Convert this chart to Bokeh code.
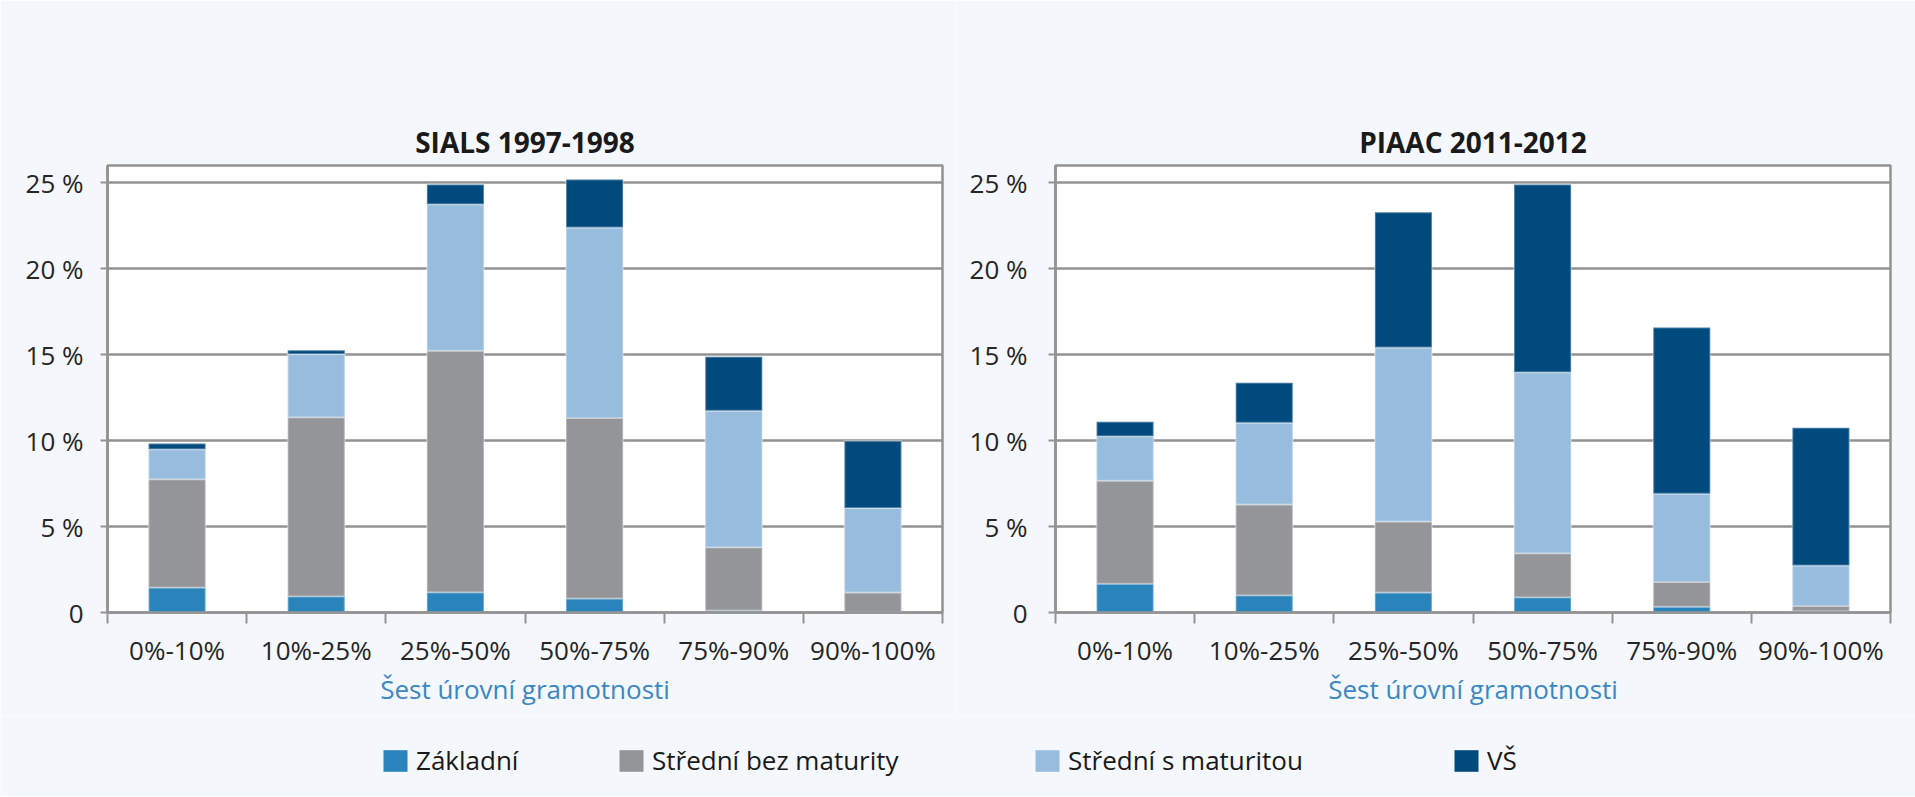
from bokeh.plotting import figure
from bokeh.models import Range1d, FixedTicker, Legend, LegendItem, ColumnDataSource
from bokeh.layouts import row, column
from bokeh.embed import file_html
from bokeh.resources import INLINE

# ---- data ----
categories = ["0%-10%", "10%-25%", "25%-50%", "50%-75%", "75%-90%", "90%-100%"]
series_names = ["Základní", "Střední bez maturity", "Střední s maturitou", "VŠ"]

sials_zakladni = [1.45, 0.94, 1.18, 0.82, 0.12, 0.03]
sials_bez_maturity = [6.30, 10.42, 14.04, 10.50, 3.67, 1.13]
sials_s_maturitou = [1.75, 3.68, 8.53, 11.08, 7.95, 4.92]
sials_vs = [0.33, 0.22, 1.15, 2.79, 3.14, 3.90]

piaac_zakladni = [1.67, 1.00, 1.16, 0.89, 0.33, 0.08]
piaac_bez_maturity = [5.99, 5.28, 4.14, 2.56, 1.45, 0.30]
piaac_s_maturitou = [2.59, 4.75, 10.12, 10.52, 5.13, 2.36]
piaac_vs = [0.85, 2.34, 7.86, 10.92, 9.67, 8.00]

y_ticks = [0, 5, 10, 15, 20, 25]
y_tick_labels = ["0", "5 %", "10 %", "15 %", "20 %", "25 %"]
x_axis_title = "Šest úrovní gramotnosti"

# ---- style ----
COLORS = ["#2A84BC", "#939598", "#97BCDD", "#004A7E"]
BG = "#F4F7FB"
GRID = "#939393"
TEXT = "#262626"
FONT = "Open Sans"
FRAME_W = 835
FRAME_H = 447


def make_chart(title, vals, width, left_border, ystandoff):
    keys = ["zakl", "bez", "smat", "vs"]
    n = len(categories)
    xs = [i + 0.5 for i in range(n)]
    data = dict(x=xs)
    for k, v in zip(keys, vals):
        data[k] = v
    src = ColumnDataSource(data)

    p = figure(frame_width=FRAME_W, frame_height=FRAME_H,
               x_range=Range1d(0, n), y_range=Range1d(0, 26),
               output_backend="svg", toolbar_location=None, title=title,
               min_border_left=left_border, min_border_right=width - left_border - FRAME_W,
               min_border_top=165, min_border_bottom=103)
    p.border_fill_color = BG
    p.background_fill_color = "white"
    p.outline_line_color = GRID
    p.outline_line_width = 2.5

    p.title.text_font = FONT
    p.title.text_font_size = "28px"
    p.title.text_font_style = "bold"
    p.title.text_color = "#1a1a1a"
    p.title.align = "center"

    p.vbar_stack(keys, x="x", width=0.41, source=src, fill_color=COLORS,
                 line_color="white", line_alpha=0.3, line_width=2)

    # x axis
    xa = p.xaxis[0]
    xa.ticker = FixedTicker(ticks=xs, minor_ticks=list(range(n + 1)))
    xa.major_label_overrides = {x: c for x, c in zip(xs, categories)}
    xa.major_tick_line_color = None
    xa.minor_tick_line_color = GRID
    xa.minor_tick_line_width = 2
    xa.minor_tick_in = 0
    xa.minor_tick_out = 11
    xa.axis_line_color = GRID
    xa.axis_line_width = 2.5
    xa.major_label_text_font = FONT
    xa.major_label_text_font_size = "26px"
    xa.major_label_text_color = TEXT
    xa.major_label_standoff = 8
    xa.axis_label = x_axis_title
    xa.axis_label_text_font = FONT
    xa.axis_label_text_font_size = "26px"
    xa.axis_label_text_font_style = "normal"
    xa.axis_label_text_color = "#3B88C4"
    xa.axis_label_standoff = 0

    # y axis
    ya = p.yaxis[0]
    ya.ticker = FixedTicker(ticks=y_ticks)
    ya.major_label_overrides = {t: l for t, l in zip(y_ticks, y_tick_labels)}
    ya.major_tick_line_color = GRID
    ya.major_tick_line_width = 2
    ya.major_tick_in = 0
    ya.major_tick_out = 7
    ya.minor_tick_line_color = None
    ya.axis_line_color = GRID
    ya.axis_line_width = 2.5
    ya.major_label_text_font = FONT
    ya.major_label_text_font_size = "26px"
    ya.major_label_text_color = TEXT
    ya.major_label_standoff = ystandoff

    p.xgrid.visible = False
    p.ygrid.grid_line_color = GRID
    p.ygrid.grid_line_width = 2.5
    return p


f1 = make_chart("SIALS 1997-1998",
                [sials_zakladni, sials_bez_maturity, sials_s_maturitou, sials_vs],
                955, 107, 17)
f2 = make_chart("PIAAC 2011-2012",
                [piaac_zakladni, piaac_bez_maturity, piaac_s_maturitou, piaac_vs],
                960, 100, 21)

# ---- legend strip ----
f3 = figure(width=1915, height=81, x_range=Range1d(0, 1), y_range=Range1d(0, 1),
            output_backend="svg", toolbar_location=None, min_border=0,
            x_axis_type=None, y_axis_type=None)
f3.border_fill_color = BG
f3.background_fill_color = BG
f3.outline_line_color = None

legend_x = [380, 616, 1032, 1451]
for name, col, lx in zip(series_names, COLORS, legend_x):
    # swatch-only renderer: its single bar lies outside the visible range
    r = f3.vbar(x=[5], top=[5], bottom=[4], width=0.5, fill_color=col, line_color=None)
    leg = Legend(items=[LegendItem(label=name, renderers=[r])], location=(lx, 18),
                 orientation="horizontal", padding=0, margin=0, spacing=0,
                 border_line_color=None, background_fill_alpha=0,
                 glyph_width=30, glyph_height=27, label_standoff=6,
                 label_text_font=FONT, label_text_font_size="26px",
                 label_text_color="#1a1a1a", label_height=27)
    f3.add_layout(leg)

layout = column(row(f1, f2), f3)
open("out.html", "w").write(file_html(layout, INLINE))
